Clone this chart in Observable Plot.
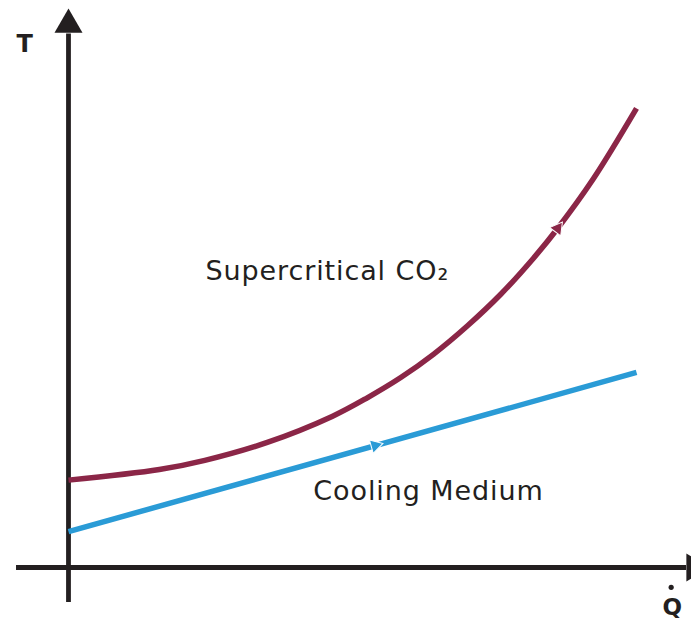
<!DOCTYPE html>
<html>
<head>
<meta charset="utf-8">
<script src="https://cdn.jsdelivr.net/npm/d3@7"></script>
<script src="https://cdn.jsdelivr.net/npm/@observablehq/plot@0.6"></script>
<style>
  body { margin: 0; background: #fff; }
  svg { display: block; }
</style>
</head>
<body>
<div id="chart"></div>
<script>
// Supercritical CO2 curve (heat flow Q vs temperature T, arbitrary units)
const qCO2 = [0, 16, 24, 35, 46.5, 52.6, 58.5, 64.3, 70.2, 76.1, 81.9, 86.1, 92.4, 100];
const tCO2 = [19.0, 21.3, 23.3, 27.2, 32.9, 36.9, 41.3, 46.4, 52.5, 59.4, 67.3, 73.7, 84.5, 99.8];
// Cooling medium line
const qCool = [0, 100];
const tCool = [7.8, 42.4];
// Flow-direction markers
const markerQ = [86.1, 54];
const markerT = [73.7, 26.5];
const markerSeries = ["co2", "cool"];
// Labels
const labelText = ["Supercritical CO\u2082", "Cooling Medium"];
const labelQ = [24.1, 43.1];
const labelT = [62.6, 14.6];
const axisLabels = ["T", "Q"];

const RED = "#8b2647";
const BLUE = "#2a9bd6";
const INK = "#231f20";
const FONT = "DejaVu Sans";

const co2 = qCO2.map((q, i) => ({q, t: tCO2[i]}));
const cool = qCool.map((q, i) => ({q, t: tCool[i]}));
const markers = markerQ.map((q, i) => ({q, t: markerT[i], s: markerSeries[i]}));
const labels = labelText.map((s, i) => ({s, q: labelQ[i], t: labelT[i]}));

const xDom = [-11.97, 109.68];
const yDom = [-11.30, 123.26];

const chart = Plot.plot({
  width: 691,
  height: 619,
  margin: 0,
  x: {domain: xDom, axis: null},
  y: {domain: yDom, axis: null},
  style: {background: "#fff"},
  marks: [
    // axes
    Plot.ruleX([0], {y1: -7.6, y2: 116, stroke: INK, strokeWidth: 4.8}),
    Plot.ruleY([0], {x1: -9.15, x2: 108.8, stroke: INK, strokeWidth: 4.8}),
    Plot.dot([{q: 0, t: 118.0}], {x: "q", y: "t", symbol: "triangle", r: 10.4, fill: INK, stroke: "none"}),
    Plot.dot([{q: 110.2, t: 0}], {x: "q", y: "t", symbol: "triangle", r: 10.4, rotate: 90, fill: INK, stroke: "none"}),
    // curves
    Plot.line(cool, {x: "q", y: "t", stroke: BLUE, strokeWidth: 5.5, strokeLinecap: "butt"}),
    Plot.line(co2, {x: "q", y: "t", stroke: RED, strokeWidth: 5.5, curve: "catmull-rom", strokeLinecap: "butt"}),
    // direction markers
    Plot.dot(markers, {x: "q", y: "t", symbol: "triangle", r: 5.2,
      rotate: d => d.s === "co2" ? 37 : 74.3,
      fill: d => d.s === "co2" ? RED : BLUE, stroke: "#fff", strokeWidth: 1}),
    // labels
    Plot.text(labels, {x: "q", y: "t", text: "s", textAnchor: "start", lineAnchor: "bottom",
      fontSize: 27, fontFamily: FONT, fill: INK}),
    Plot.text([{s: axisLabels[0], q: -7.7, t: 112.0}], {x: "q", y: "t", text: "s", lineAnchor: "bottom",
      fontSize: 24, fontWeight: "bold", fontFamily: FONT, fill: INK}),
    Plot.text([{s: axisLabels[1], q: 106.3, t: -10.4}], {x: "q", y: "t", text: "s", lineAnchor: "bottom",
      fontSize: 23, fontWeight: "bold", fontFamily: FONT, fill: INK}),
    Plot.dot([{q: 106.1, t: -4.3}], {x: "q", y: "t", r: 2.6, fill: INK, stroke: "none"})
  ]
});
d3.select(chart).selectAll("text")
  .filter(function() { return labelText.includes(this.textContent); })
  .attr("letter-spacing", "0.9px");
document.getElementById("chart").appendChild(chart);
</script>
</body>
</html>
